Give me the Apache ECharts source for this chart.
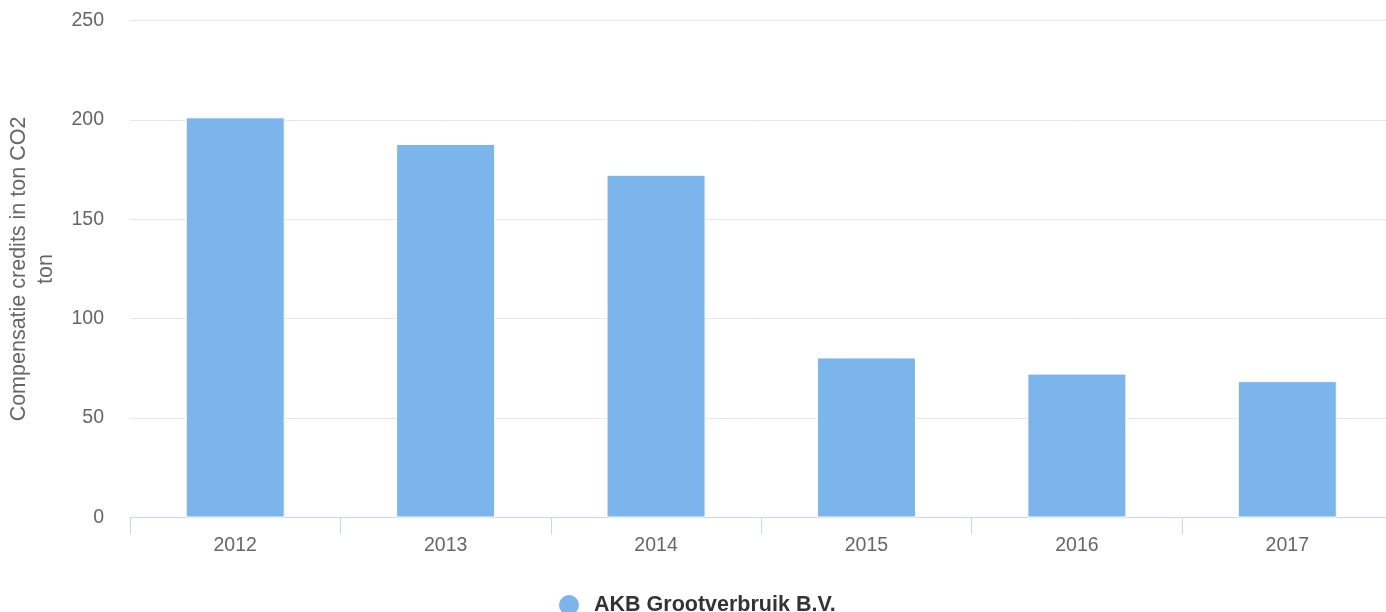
<!DOCTYPE html>
<html>
<head>
<meta charset="utf-8">
<title>Compensatie credits</title>
<script src="https://cdn.jsdelivr.net/npm/echarts@6/dist/echarts.min.js"></script>
<style>
  html, body { margin: 0; padding: 0; background: #fff; }
  #chart { width: 1386px; height: 612px; }
</style>
</head>
<body>
<div id="chart"></div>
<script>
// data
var years = ['2012', '2013', '2014', '2015', '2016', '2017']
var credits = [201.3, 187.9, 172.4, 80.5, 72.4, 68.6]
var seriesName = 'AKB Grootverbruik B.V.'
var yTitle = 'Compensatie credits in ton CO2\nton'

var font = '"Liberation Sans", Arial, Helvetica, sans-serif'

var chart = echarts.init(document.getElementById('chart'))
chart.setOption({
  animation: false,
  textStyle: { fontFamily: font },
  grid: {
    left: 130,
    top: 20.5,
    width: 1262.5,
    height: 497,
    containLabel: false,
    outerBoundsMode: 'none'  // plot runs a bit past the right edge, like the original
  },
  legend: {
    data: [seriesName],
    left: 557,
    top: 593,
    padding: 0,
    icon: 'circle',
    itemWidth: 22,
    itemHeight: 22,
    textStyle: {
      color: '#333333',
      fontSize: 21.5,
      fontWeight: 'bold',
      fontFamily: font,
      padding: [0, 0, 0, 9]
    }
  },
  xAxis: {
    type: 'category',
    data: years,
    axisLine: { show: true, lineStyle: { color: '#ccd6eb', width: 1 } },
    axisTick: { show: true, alignWithLabel: false, length: 17, lineStyle: { color: '#ccd6eb', width: 1 } },
    axisLabel: { color: '#666666', fontSize: 19.5, margin: 18, fontFamily: font },
    splitLine: { show: false }
  },
  yAxis: {
    type: 'value',
    min: 0,
    max: 250,
    interval: 50,
    name: yTitle,
    nameLocation: 'middle',
    nameGap: 70,
    nameMoveOverlap: false,
    nameTextStyle: { color: '#666666', fontSize: 21.5, lineHeight: 27, fontFamily: font },
    axisLine: { show: false },
    axisTick: { show: false },
    axisLabel: { color: '#666666', fontSize: 19.5, margin: 26, fontFamily: font, padding: [4, 0, 0, 0] },
    splitLine: { lineStyle: { color: '#e6e6e6', width: 1 } }
  },
  series: [{
    name: seriesName,
    type: 'bar',
    data: credits,
    barWidth: 99,
    itemStyle: {
      color: '#7cb5ec',
      borderColor: '#ffffff',
      borderWidth: 1
    }
  }]
})
</script>
</body>
</html>
